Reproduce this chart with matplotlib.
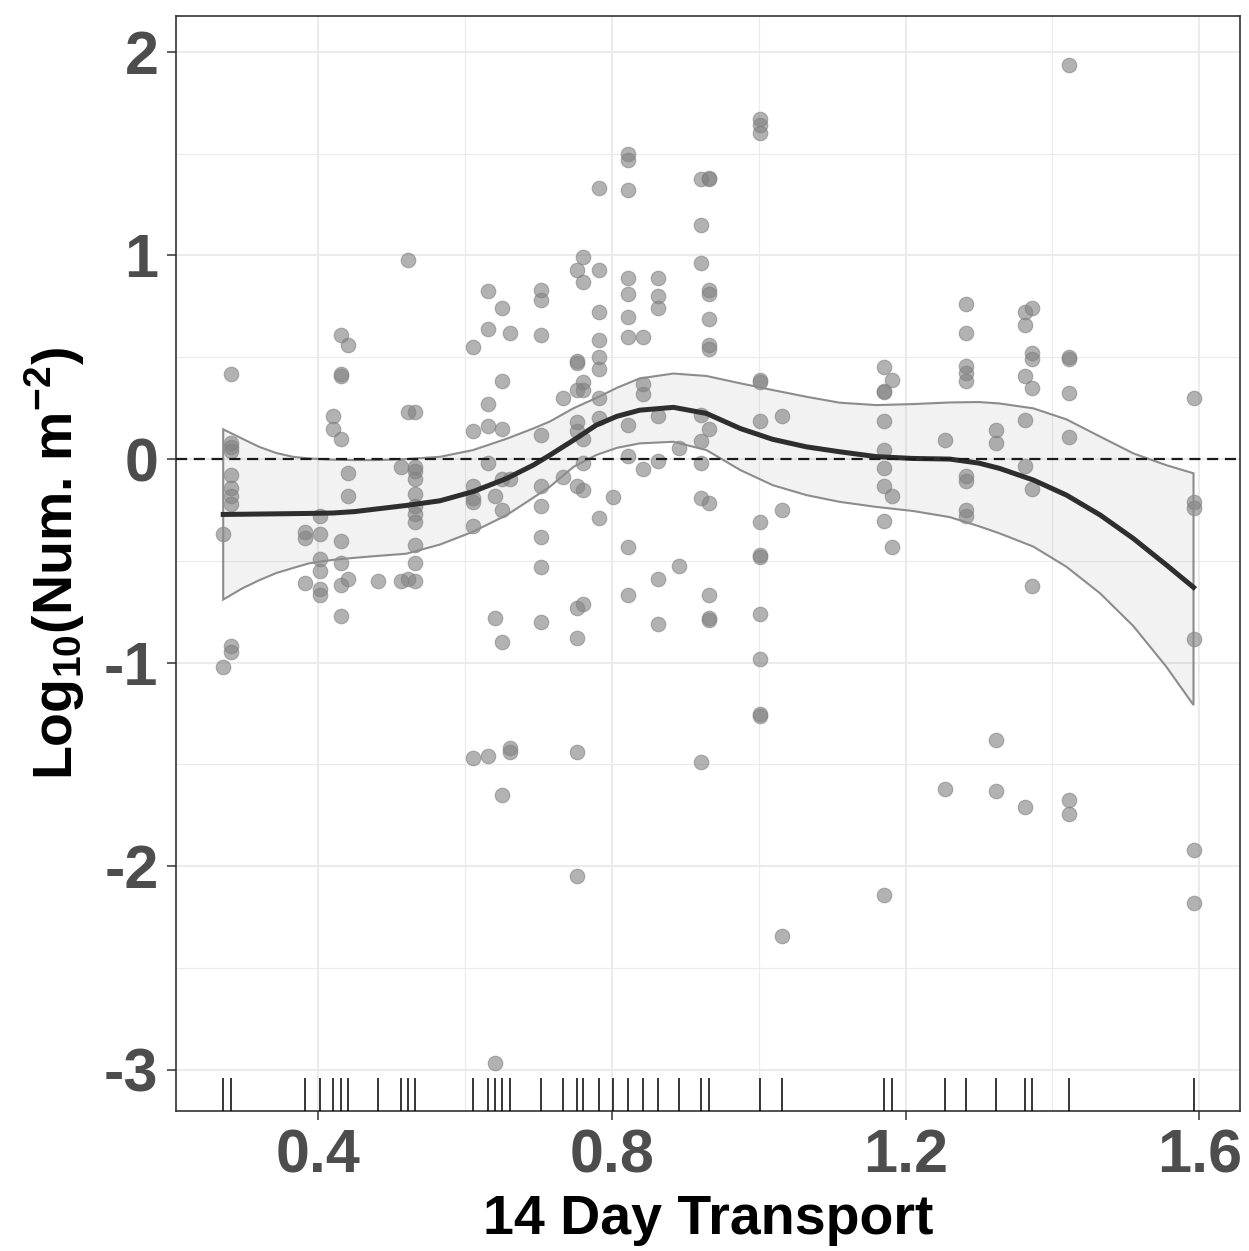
import numpy as np
import matplotlib.pyplot as plt
from matplotlib.patches import Polygon
import matplotlib.transforms as mtransforms

plt.rcParams['font.family'] = ['Liberation Sans', 'DejaVu Sans']
plt.rcParams['mathtext.fontset'] = 'custom'
plt.rcParams['mathtext.rm'] = 'Liberation Sans'
plt.rcParams['axes.unicode_minus'] = False

# observations: 14 day transport vs log10 density
transport = (
    [0.271] * 2 + [0.281] * 10 + [0.382] * 3 + [0.403] * 6 + [0.421] * 2
    + [0.431] * 8 + [0.441] * 4 + [0.482] * 1 + [0.513] * 2 + [0.523] * 3
    + [0.532] * 11 + [0.611] * 7 + [0.632] * 6 + [0.641] * 3 + [0.651] * 7
    + [0.662] * 4 + [0.703] * 9 + [0.733] * 2 + [0.752] * 11 + [0.761] * 8
    + [0.782] * 9 + [0.802] * 1 + [0.822] * 11 + [0.843] * 4 + [0.863] * 7
    + [0.892] * 2 + [0.922] * 8 + [0.932] * 12 + [1.002] * 13 + [1.032] * 3
    + [1.171] * 9 + [1.181] * 3 + [1.253] * 2 + [1.282] * 9 + [1.323] * 4
    + [1.363] * 6 + [1.372] * 6 + [1.423] * 7 + [1.592] * 6
)
log_num = [
    -0.37, -1.02,
    0.42, 0.08, 0.06, 0.04, -0.08, -0.14, -0.18, -0.22, -0.92, -0.95,
    -0.36, -0.39, -0.61,
    -0.28, -0.37, -0.49, -0.55, -0.64, -0.67,
    0.21, 0.15,
    0.61, 0.42, 0.41, 0.10, -0.40, -0.51, -0.62, -0.77,
    0.56, -0.07, -0.18, -0.59,
    -0.60,
    -0.04, -0.60,
    0.98, 0.23, -0.59,
    0.23, -0.04, -0.06, -0.10, -0.17, -0.23, -0.27, -0.31, -0.42, -0.51, -0.60,
    0.55, 0.14, -0.13, -0.19, -0.21, -0.33, -1.47,
    0.825, 0.64, 0.27, 0.16, -0.02, -1.46,
    -0.18, -0.78, -2.965,
    0.74, 0.385, 0.15, -0.10, -0.25, -0.90, -1.65,
    0.62, -0.10, -1.42, -1.44,
    0.83, 0.78, 0.61, 0.12, -0.13, -0.23, -0.385, -0.53, -0.80,
    0.30, -0.09,
    0.93, 0.48, 0.47, 0.34, 0.18, 0.14, -0.13, -0.73, -0.88, -1.44, -2.05,
    0.99, 0.87, 0.38, 0.34, 0.10, -0.02, -0.15, -0.71,
    1.33, 0.93, 0.72, 0.585, 0.50, 0.44, 0.30, 0.20, -0.29,
    -0.185,
    1.50, 1.47, 1.32, 0.89, 0.81, 0.70, 0.60, 0.165, 0.015, -0.43, -0.67,
    0.60, 0.37, 0.32, -0.05,
    0.89, 0.80, 0.74, 0.21, -0.01, -0.59, -0.81,
    0.055, -0.525,
    1.375, 1.15, 0.965, 0.215, 0.09, -0.02, -0.19, -1.49,
    1.375, 1.38, 0.83, 0.81, 0.69, 0.56, 0.54, 0.15, -0.215, -0.67, -0.78, -0.79,
    1.67, 1.64, 1.60, 0.39, 0.38, 0.185, -0.31, -0.47, -0.48, -0.76, -0.98, -1.25, -1.26,
    0.21, -0.25, -2.34,
    0.45, 0.335, 0.33, 0.185, 0.045, -0.045, -0.13, -0.305, -2.14,
    0.39, -0.18, -0.43,
    0.095, -1.62,
    0.76, 0.62, 0.455, 0.425, 0.385, -0.085, -0.11, -0.25, -0.28,
    0.145, 0.08, -1.38, -1.63,
    0.72, 0.66, 0.41, 0.19, -0.035, -1.71,
    0.74, 0.52, 0.49, 0.35, -0.145, -0.625,
    1.935, 0.50, 0.49, 0.325, 0.11, -1.675, -1.745,
    0.30, -0.21, -0.24, -0.885, -1.92, -2.18,
]

# smoother fit and 95% band
fit_x = [0.271, 0.297, 0.32, 0.343, 0.366, 0.388, 0.42, 0.45, 0.48, 0.52,
         0.566, 0.611, 0.657, 0.693, 0.716, 0.748, 0.779, 0.807, 0.838, 0.884,
         0.929, 0.975, 1.019, 1.065, 1.11, 1.16, 1.21, 1.26, 1.30, 1.328,
         1.374, 1.419, 1.465, 1.51, 1.555, 1.592]
fit_y = [-0.272, -0.271, -0.27, -0.269, -0.268, -0.267, -0.265, -0.258, -0.245,
         -0.228, -0.205, -0.16, -0.095, -0.03, 0.02, 0.093, 0.167, 0.21, 0.24,
         0.254, 0.224, 0.15, 0.097, 0.06, 0.036, 0.012, 0.003, 0.0, -0.02,
         -0.046, -0.103, -0.177, -0.275, -0.39, -0.52, -0.63]
fit_hi = [0.146, 0.10, 0.06, 0.03, 0.011, 0.003, -0.003, -0.005, -0.005, 0.0,
          0.011, 0.044, 0.10, 0.15, 0.185, 0.25, 0.30, 0.35, 0.396, 0.42,
          0.408, 0.372, 0.339, 0.306, 0.277, 0.265, 0.27, 0.278, 0.28, 0.273,
          0.249, 0.195, 0.11, 0.028, -0.03, -0.07]
fit_lo = [-0.69, -0.635, -0.595, -0.56, -0.535, -0.512, -0.495, -0.485, -0.476,
          -0.465, -0.42, -0.357, -0.275, -0.19, -0.135, -0.038, 0.02, 0.055,
          0.077, 0.085, 0.044, -0.054, -0.128, -0.177, -0.21, -0.235, -0.255,
          -0.285, -0.33, -0.365, -0.43, -0.529, -0.66, -0.82, -1.02, -1.208]

fig = plt.figure(figsize=(12.49, 12.51), dpi=100)
ax = fig.add_axes([0.1409, 0.1119, 0.8519, 0.8753])

ax.set_xlim(0.2067, 1.6553)
ax.set_ylim(-3.202, 2.176)
ax.set_xticks([0.4, 0.8, 1.2, 1.6])
ax.set_xticks([0.6, 1.0, 1.4], minor=True)
ax.set_yticks([-3, -2, -1, 0, 1, 2])
ax.set_yticks([-2.5, -1.5, -0.5, 0.5, 1.5], minor=True)
ax.grid(True, which='major', color='#ebebeb', lw=1.5, zorder=0)
ax.grid(True, which='minor', color='#ebebeb', lw=0.8, zorder=0)
ax.set_axisbelow(True)

ax.scatter(transport, log_num, s=110, color='grey', alpha=0.6, lw=0.8, zorder=2)

band = np.column_stack([fit_x + fit_x[::-1], fit_hi + fit_lo[::-1]])
ax.add_patch(Polygon(band, closed=True, facecolor='grey', alpha=0.1,
                     edgecolor='none', zorder=3))
ax.add_patch(Polygon(band, closed=True, facecolor='none',
                     edgecolor='#8c8c8c', lw=1.5, zorder=3))
ax.plot(fit_x, fit_y, color='#2e2e2e', lw=3.6, zorder=4,
        solid_joinstyle='round')

ax.axhline(0, color='#1a1a1a', lw=1.6, ls=(0, (5, 3)), zorder=5)

# rug along the bottom
trans = mtransforms.blended_transform_factory(ax.transData, ax.transAxes)
ax.vlines(np.unique(transport), 0, 0.03, transform=trans, color='black',
          lw=1.1, zorder=5)

for sp in ax.spines.values():
    sp.set_color('#333333')
    sp.set_linewidth(1.2)
ax.tick_params(which='major', length=6.5, width=1.1, color='#333333',
               labelsize=44, labelcolor='#4d4d4d', pad=6)
ax.tick_params(which='minor', length=0)
for lab in ax.get_xticklabels() + ax.get_yticklabels():
    lab.set_fontweight('bold')

ax.set_xlabel('14 Day Transport', fontsize=40, fontweight='bold',
              color='black', labelpad=6)
ax.set_ylabel(r'Log$_{\mathregular{10}}$(Num. m$^{\mathregular{-2}}$)',
              fontsize=40, fontweight='bold', color='black', labelpad=12)

fig.savefig('out.png', dpi=100)
